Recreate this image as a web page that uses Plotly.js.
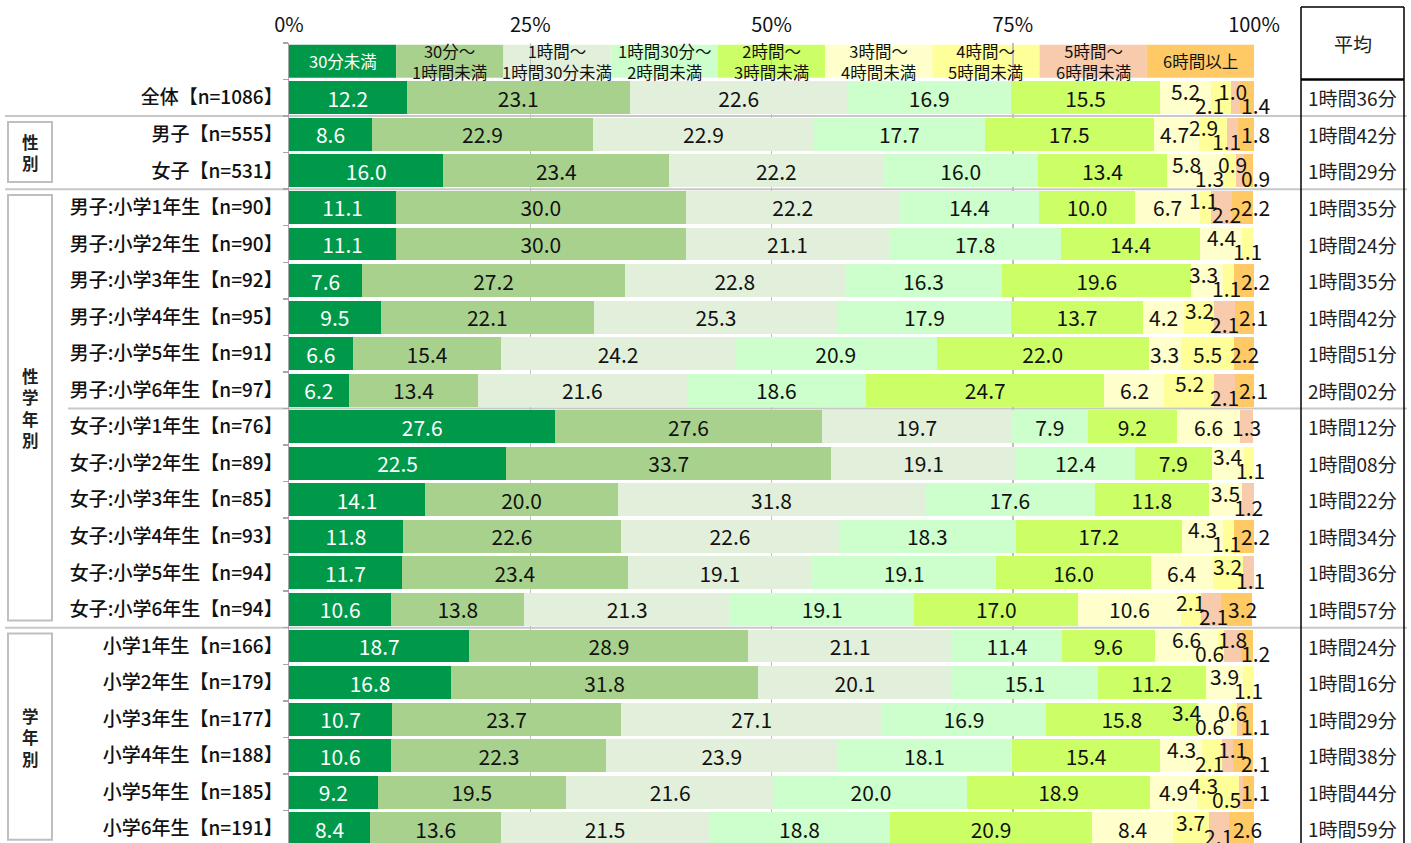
<!DOCTYPE html>
<html>
<head>
<meta charset="utf-8">
<script src="https://cdn.plot.ly/plotly-3.0.1.min.js"></script>
<style>html,body{margin:0;padding:0;background:#fff;}#chart{width:1411px;height:843px;}</style>
</head>
<body>
<div id="chart"></div>
<script>
// ---------- data ----------
const categories = [
  '全体【n=1086】','男子【n=555】','女子【n=531】',
  '男子:小学1年生【n=90】','男子:小学2年生【n=90】','男子:小学3年生【n=92】',
  '男子:小学4年生【n=95】','男子:小学5年生【n=91】','男子:小学6年生【n=97】',
  '女子:小学1年生【n=76】','女子:小学2年生【n=89】','女子:小学3年生【n=85】',
  '女子:小学4年生【n=93】','女子:小学5年生【n=94】','女子:小学6年生【n=94】',
  '小学1年生【n=166】','小学2年生【n=179】','小学3年生【n=177】',
  '小学4年生【n=188】','小学5年生【n=185】','小学6年生【n=191】'
];
const seriesNames = ['30分未満','30分～1時間未満','1時間～1時間30分未満','1時間30分～2時間未満','2時間～3時間未満','3時間～4時間未満','4時間～5時間未満','5時間～6時間未満','6時間以上'];
const legendLabels = ['30分未満','30分～<br>1時間未満','1時間～<br>1時間30分未満','1時間30分～<br>2時間未満','2時間～<br>3時間未満','3時間～<br>4時間未満','4時間～<br>5時間未満','5時間～<br>6時間未満','6時間以上'];
const under30m  = [12.2, 8.6,16.0,11.1,11.1, 7.6, 9.5, 6.6, 6.2,27.6,22.5,14.1,11.8,11.7,10.6,18.7,16.8,10.7,10.6, 9.2, 8.4];
const m30to1h   = [23.1,22.9,23.4,30.0,30.0,27.2,22.1,15.4,13.4,27.6,33.7,20.0,22.6,23.4,13.8,28.9,31.8,23.7,22.3,19.5,13.6];
const h1to1h30  = [22.6,22.9,22.2,22.2,21.1,22.8,25.3,24.2,21.6,19.7,19.1,31.8,22.6,19.1,21.3,21.1,20.1,27.1,23.9,21.6,21.5];
const h1h30to2h = [16.9,17.7,16.0,14.4,17.8,16.3,17.9,20.9,18.6, 7.9,12.4,17.6,18.3,19.1,19.1,11.4,15.1,16.9,18.1,20.0,18.8];
const h2to3h    = [15.5,17.5,13.4,10.0,14.4,19.6,13.7,22.0,24.7, 9.2, 7.9,11.8,17.2,16.0,17.0, 9.6,11.2,15.8,15.4,18.9,20.9];
const h3to4h    = [ 5.2, 4.7, 5.8, 6.7, 4.4, 3.3, 4.2, 3.3, 6.2, 6.6, 3.4, 3.5, 4.3, 6.4,10.6, 6.6, 3.9, 3.4, 4.3, 4.9, 8.4];
const h4to5h    = [ 2.1, 2.9, 1.3, 1.1, 1.1, 1.1, 3.2, 5.5, 5.2, 0.0, 1.1, 0.0, 1.1, 3.2, 2.1, 0.6, 1.1, 0.6, 2.1, 4.3, 3.7];
const h5to6h    = [ 1.0, 1.1, 0.9, 2.2, 0.0, 0.0, 2.1, 0.0, 2.1, 1.3, 0.0, 1.2, 0.0, 1.1, 2.1, 1.8, 0.0, 0.6, 1.1, 0.5, 2.1];
const over6h    = [ 1.4, 1.8, 0.9, 2.2, 0.0, 2.2, 2.1, 2.2, 2.1, 0.0, 0.0, 0.0, 2.2, 0.0, 3.2, 1.2, 0.0, 1.1, 2.1, 1.1, 2.6];
const averages  = ['1時間36分','1時間42分','1時間29分','1時間35分','1時間24分','1時間35分','1時間42分','1時間51分','2時間02分',
                   '1時間12分','1時間08分','1時間22分','1時間34分','1時間36分','1時間57分',
                   '1時間24分','1時間16分','1時間29分','1時間38分','1時間44分','1時間59分'];
const groups = [
  {name:'性別', first:'男子【n=555】', last:'女子【n=531】'},
  {name:'性学年別', first:'男子:小学1年生【n=90】', last:'女子:小学6年生【n=94】'},
  {name:'学年別', first:'小学1年生【n=166】', last:'小学6年生【n=191】'}
];
const avgHeader = '平均';

// ---------- styles ----------
const series = [under30m, m30to1h, h1to1h30, h1h30to2h, h2to3h, h3to4h, h4to5h, h5to6h, over6h];
const colors = ['#00994A','#A9D18E','#E2EFDA','#CCFFCC','#CCFF66','#FFFFCC','#FFFF99','#F8CBAD','#FFC966'];
const FONT = 'Noto Sans CJK JP, Noto Sans, sans-serif';
const legendCat = ' ';
const catArray = [legendCat].concat(categories);
const idx = c => catArray.indexOf(c);

const traces = [];
traces.push({type:'scatter', x:[0], y:[legendCat], mode:'markers', marker:{opacity:0}, hoverinfo:'skip', showlegend:false});
series.forEach((vals, k) => {
  traces.push({
    type:'bar', orientation:'h', name: seriesNames[k],
    y: categories, x: vals,
    marker:{color: colors[k], line:{width:0}},
    text: k < 5 ? vals.map(v => v.toFixed(1)) : undefined,
    textposition: k < 5 ? 'inside' : 'none',
    insidetextanchor:'middle', textangle:0, constraintext:'none',
    textfont:{family:FONT, size:21, color: k === 0 ? '#ffffff' : '#111111'},
    hoverinfo:'x+name', showlegend:false
  });
});

const annotations = [];
const shapes = [];

// small segment labels with collision avoidance (pixel based)
const plotW = 965, pxPerUnit = plotW / 100, minDist = 35.5, maxPx = 100.2 * pxPerUnit;
const gapFor = (a, b) => (a === b ? 36 : (a === 0 || b === 0 ? 29 : 23));
categories.forEach((cat, r) => {
  let cum = 0;
  for (let k = 0; k < 5; k++) cum += series[k][r];
  const placed = [];
  for (let k = 5; k < 9; k++) {
    const v = series[k][r];
    if (v > 0) {
      const item = {c: (cum + v / 2) * pxPerUnit, v: v, level: 0, cx: cum + v / 2};
      const prev = placed[placed.length - 1];
      if (prev && (item.c - prev.c) < minDist) {
        if (prev.level === 0) { prev.level = 1; item.level = -1; }
        else if (prev.level === 1) item.level = -1;
        else item.level = 0;
      }
      placed.push(item);
    }
    cum += v;
  }
  placed.forEach(p => p.p = p.c);
  for (let i = 1; i < placed.length; i++) {
    const g = gapFor(placed[i].level, placed[i-1].level);
    if (placed[i].p - placed[i-1].p < g) placed[i].p = placed[i-1].p + g;
  }
  if (placed.length && placed[placed.length-1].p > maxPx) {
    placed[placed.length-1].p = maxPx;
    for (let i = placed.length - 2; i >= 0; i--) {
      const g = gapFor(placed[i].level, placed[i+1].level);
      if (placed[i+1].p - placed[i].p < g) placed[i].p = placed[i+1].p - g;
    }
  }
  placed.forEach(p => {
    // anchor each label at its own segment centre, then nudge by the pixel offset
    annotations.push({x:p.cx, y:idx(cat), xref:'x', yref:'y', text:p.v.toFixed(1), showarrow:false,
      xanchor:'center', yanchor:'middle', xshift: p.p - p.c, yshift: p.level * 7,
      font:{family:FONT, size:21, color:'#111'}});
  });
});

// legend row
seriesNames.forEach((n, k) => {
  shapes.push({type:'rect', xref:'x domain', yref:'y', x0:k/9, x1:(k+1)/9, y0:-0.45, y1:0.45,
    fillcolor:colors[k], line:{width:0}, layer:'below'});
  annotations.push({xref:'x domain', yref:'y', x:(k+0.5)/9, y:0, text:legendLabels[k], showarrow:false,
    xanchor:'center', yanchor:'middle',
    font:{family:FONT, size:16.5, color: k === 0 ? '#ffffff' : '#111'}, align:'center'});
});

// averages column
const tx0 = (1301 - 289) / plotW, tx1 = (1404 - 289) / plotW, tmid = (tx0 + tx1) / 2;
categories.forEach((cat, r) => {
  annotations.push({xref:'paper', yref:'y', x:tmid, y:idx(cat), text:averages[r], showarrow:false,
    xanchor:'center', yanchor:'middle', font:{family:FONT, size:19, color:'#222'}});
});
annotations.push({xref:'paper', yref:'paper', x:tmid, y:(843-44)/800, text:avgHeader, showarrow:false,
  xanchor:'center', yanchor:'middle', font:{family:FONT, size:19, color:'#222'}});
const tableTop = (843 - 7) / 800;
shapes.push({type:'line', xref:'paper', yref:'paper', x0:tx0, x1:tx0, y0:-0.01, y1:tableTop, line:{color:'#000', width:1.5}});
shapes.push({type:'line', xref:'paper', yref:'paper', x0:tx1, x1:tx1, y0:-0.01, y1:tableTop, line:{color:'#000', width:1.5}});
shapes.push({type:'line', xref:'paper', yref:'paper', x0:tx0, x1:tx1, y0:tableTop, y1:tableTop, line:{color:'#000', width:1.5}});
shapes.push({type:'line', xref:'paper', yref:'y', x0:tx0, x1:tx1, y0:0.5, y1:0.5, line:{color:'#000', width:2.5}});

// group separators and boxes
const leftFull = (5 - 289) / plotW, leftInner = (68 - 289) / plotW;
const bx0 = (8 - 289) / plotW, bx1 = (52 - 289) / plotW, bxm = (30 - 289) / plotW;
const sepLine = (y, x0) => shapes.push({type:'line', xref:'paper', yref:'y', x0:x0, x1:(1407-289)/plotW, y0:y, y1:y,
  line:{color:'#c8c8c8', width:2}, layer:'below'});
groups.forEach(g => {
  const a = idx(g.first), b = idx(g.last);
  sepLine(a - 0.5, leftFull);
  shapes.push({type:'rect', xref:'paper', yref:'y', x0:bx0, x1:bx1, y0:a - 0.5 + 0.16, y1: b + 0.5 - 0.2,
    line:{color:'#bfbfbf', width:2}, fillcolor:'rgba(0,0,0,0)'});
  annotations.push({xref:'paper', yref:'y', x:bxm, y:(a + b) / 2, text:g.name.split('').join('<br>'), showarrow:false,
    xanchor:'center', yanchor:'middle', align:'center', font:{family:FONT, size:16.5, color:'#222', weight:600}});
});
sepLine(idx('女子:小学1年生【n=76】') - 0.5, leftInner);

const layout = {
  width:1411, height:843,
  margin:{l:289, r:157, t:43, b:0, pad:0},
  paper_bgcolor:'#ffffff', plot_bgcolor:'#ffffff',
  barmode:'stack', bargap:0.1,
  showlegend:false,
  font:{family:FONT, color:'#111'},
  xaxis:{side:'top', range:[0,100], autorange:false, tickvals:[0,25,50,75,100], ticktext:['0%','25%','50%','75%','100%'],
    showgrid:true, gridcolor:'#c0c0c0', gridwidth:1.5, zeroline:false, showline:false, ticks:'',
    tickfont:{family:FONT, size:20, color:'#111'}, ticklabelstandoff:6, fixedrange:true},
  yaxis:{type:'category', categoryorder:'array', categoryarray:catArray, range:[21.39, -0.5], autorange:false,
    tickson:'boundaries', ticks:'outside', ticklen:5, tickcolor:'#a6a6a6', tickwidth:1.5,
    showline:true, linecolor:'#a6a6a6', linewidth:1.5, showgrid:false, zeroline:false,
    tickfont:{family:FONT, size:19, color:'#111', weight:500}, ticklabelstandoff:1, fixedrange:true},
  shapes:shapes, annotations:annotations
};

Plotly.newPlot('chart', traces, layout, {displayModeBar:false, staticPlot:true});
</script>
</body>
</html>
